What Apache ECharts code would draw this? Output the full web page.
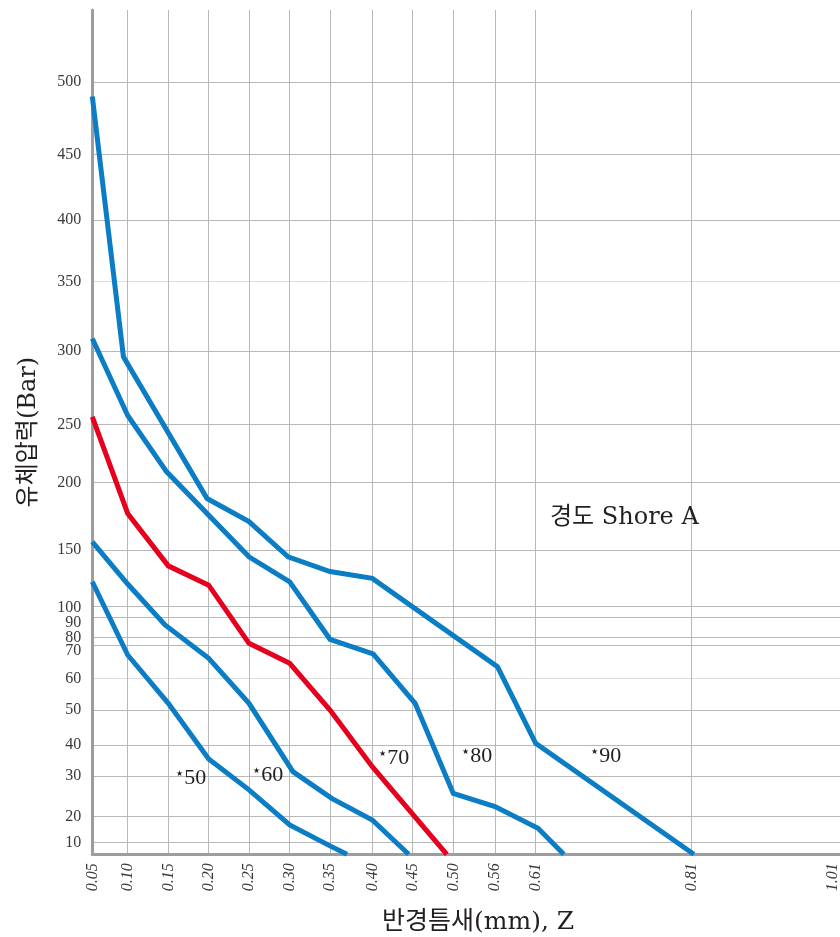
<!DOCTYPE html>
<html>
<head>
<meta charset="utf-8">
<script src="https://cdn.jsdelivr.net/npm/echarts@6/dist/echarts.min.js"></script>
<style>
html,body{margin:0;padding:0;background:#fff;}
#chart{width:840px;height:937px;}
</style>
</head>
<body>
<div id="chart"></div>
<script>
// ---------- tick labels ----------
const xTickLabels = ['0.05','0.10','0.15','0.20','0.25','0.30','0.35','0.40','0.45','0.50','0.56','0.61','0.81','1.01'];
const yTickLabels = [10,20,30,40,50,60,70,80,90,100,150,200,250,300,350,400,450,500];

// ---------- series (반경틈새 mm  vs  유체압력 Bar) ----------
const hardnessNames = ['50','60','70','80','90'];

const gap50      = [0.05, 0.10, 0.15, 0.20, 0.25, 0.30, 0.35, 0.37];
const pressure50 = [122,  67,   52.1, 35.5, 26.6, 16.8, 8.5,  5];

const gap60      = [0.05, 0.10, 0.146, 0.20, 0.25, 0.304, 0.352, 0.40, 0.445];
const pressure60 = [156,  120,  86.2,  66,   52.1, 31.4,  24.5,  18.7, 5];

const gap70      = [0.05, 0.10, 0.15, 0.20, 0.25, 0.30, 0.35, 0.40, 0.492];
const pressure70 = [255,  177,  136,  119,  72.2, 64.5, 50,   33,   5];

const gap80      = [0.05, 0.10, 0.148, 0.25, 0.30, 0.35, 0.401, 0.453, 0.50, 0.56, 0.613, 0.646];
const pressure80 = [309,  256,  209,   144,  122,  77.4, 67.3,  52.1,  25.7, 22.5, 15.5,  5];

const gap90      = [0.05, 0.094, 0.198, 0.25, 0.298, 0.35, 0.40, 0.563, 0.61, 0.813];
const pressure90 = [490,  296,   188,   171,  144,   131,  125,  63.5,  40.5, 5];

// ---------- the original's printed (non-uniform) axis scales ----------
// [value, distance along the axis]
const xScaleStops = [[0.05,0],[0.10,35.4],[0.15,76],[0.20,116.4],[0.25,156.7],[0.30,197.4],[0.35,237.7],
  [0.40,280],[0.45,320.4],[0.50,361],[0.56,402.7],[0.61,443.4],[0.81,599.4],[1.01,740.2]];
const yScaleStops = [[5,0],[10,12],[20,37.6],[30,78.3],[40,109.3],[50,144.3],[60,176],[70,209.3],[80,217],
  [90,237],[100,247.6],[150,304.3],[200,372],[250,430],[300,503.3],[350,572.6],[400,634.3],[450,700],
  [500,772.3],[550,844.3]];
const X_AXIS_LEN = 747.7, Y_AXIS_LEN = 844.3;

function scaleOf(stops){
  return function(v){
    let i = 0;
    while (i < stops.length - 2 && v > stops[i+1][0]) i++;
    const a = stops[i], b = stops[i+1];
    return a[1] + (v - a[0]) / (b[0] - a[0]) * (b[1] - a[1]);
  };
}
const sx = scaleOf(xScaleStops), sy = scaleOf(yScaleStops);

const xTickPos = xTickLabels.map(t => sx(parseFloat(t)));
const yTickPos = yTickLabels.map(v => sy(v));
// label nudges (labels spread apart where printed gridlines are crowded)
const yLabelNudge = {100:1.5, 90:5, 70:6};
const yLabelPos = yTickLabels.map(v => sy(v) - (yLabelNudge[v] || 0));
const xLabelMap = {}; xTickPos.forEach((p,i)=>{ xLabelMap[p.toFixed(2)] = xTickLabels[i]; });
const yLabelMap = {}; yLabelPos.forEach((p,i)=>{ yLabelMap[p.toFixed(2)] = String(yTickLabels[i]); });

function toPoints(gx, py){ return gx.map((g,i)=>[sx(g), sy(py[i])]); }

const curves = [
  {name:'50', gap:gap50, p:pressure50, color:'#0a7dc4'},
  {name:'60', gap:gap60, p:pressure60, color:'#0a7dc4'},
  {name:'70', gap:gap70, p:pressure70, color:'#e6001e'},
  {name:'80', gap:gap80, p:pressure80, color:'#0a7dc4'},
  {name:'90', gap:gap90, p:pressure90, color:'#0a7dc4'}
];

const ySplitColors = yTickLabels.map(v => (v===60 || v===350) ? '#dcdcdc' : '#b8b8b8');
const xSplitColors = xTickLabels.map(t => t==='1.01' ? 'rgba(0,0,0,0)' : '#b8b8b8');

const serif = "'Liberation Serif', 'Noto Sans CJK KR', serif";
const txt = '#231f20';

function starLabel(name, x, y){
  return {
    type:'text', x:x, y:y, z:50,
    style:{
      text:'{s|★}{n|' + name + '}',
      verticalAlign:'middle',
      rich:{
        s:{fontSize:8, fill:txt, color:txt, verticalAlign:'top', padding:[3,1,0,0], fontFamily:'DejaVu Sans'},
        n:{fontSize:22, fill:txt, color:txt, fontFamily:"'Liberation Serif', serif"}
      }
    }
  };
}

const chart = echarts.init(document.getElementById('chart'), null, {renderer:'canvas'});
chart.setOption({
  animation:false,
  backgroundColor:'#fff',
  grid:{left:92.3, right:0, top:10, bottom:82.7, containLabel:false, outerBoundsMode:'none'},
  xAxis:{
    type:'value', min:0, max:X_AXIS_LEN,
    name:'반경틈새(mm), Z', nameLocation:'middle', nameGap:56,
    nameTextStyle:{fontSize:25, color:txt, fontFamily:"'DejaVu Serif', 'Noto Sans CJK KR', serif", padding:[0,0,0,24]},
    axisLine:{show:true, onZero:false, lineStyle:{color:'#9d9d9d', width:3}},
    axisTick:{show:false, customValues:xTickPos},
    axisLabel:{show:true, customValues:xTickPos, rotate:90, margin:9, fontSize:16, fontStyle:'italic',
      fontFamily:serif, color:'#3a3a3a',
      formatter:function(v){ return xLabelMap[v.toFixed(2)] || ''; }},
    splitLine:{show:true, lineStyle:{color:xSplitColors, width:1}}
  },
  yAxis:{
    type:'value', min:0, max:Y_AXIS_LEN,
    name:'유체압력(Bar)', nameLocation:'middle', nameGap:52, nameRotate:90,
    nameTextStyle:{fontSize:24, color:txt, fontFamily:"'DejaVu Serif', 'Noto Sans CJK KR', serif"},
    axisLine:{show:true, onZero:false, lineStyle:{color:'#9d9d9d', width:3}},
    axisTick:{show:false, customValues:yTickPos},
    axisLabel:{show:true, customValues:yLabelPos, margin:11, fontSize:16, fontFamily:serif, color:'#3a3a3a',
      formatter:function(v){ return yLabelMap[v.toFixed(2)] || ''; }},
    splitLine:{show:true, lineStyle:{color:ySplitColors, width:1}}
  },
  graphic:[
    starLabel('50', 176, 778),
    starLabel('60', 253, 775),
    starLabel('70', 379, 758),
    starLabel('80', 462, 756),
    starLabel('90', 591, 756),
    {type:'text', x:550, y:518, z:50, style:{text:'경도 Shore A', fill:txt, fontSize:24,
      fontFamily:"'DejaVu Serif', 'Noto Sans CJK KR', serif", verticalAlign:'middle'}}
  ],
  series: curves.map(c => ({
    type:'line', name:c.name, data:toPoints(c.gap, c.p),
    showSymbol:false, symbol:'none', clip:false, z:5,
    lineStyle:{color:c.color, width:5, cap:'butt', join:'miter'}
  }))
});
</script>
</body>
</html>
